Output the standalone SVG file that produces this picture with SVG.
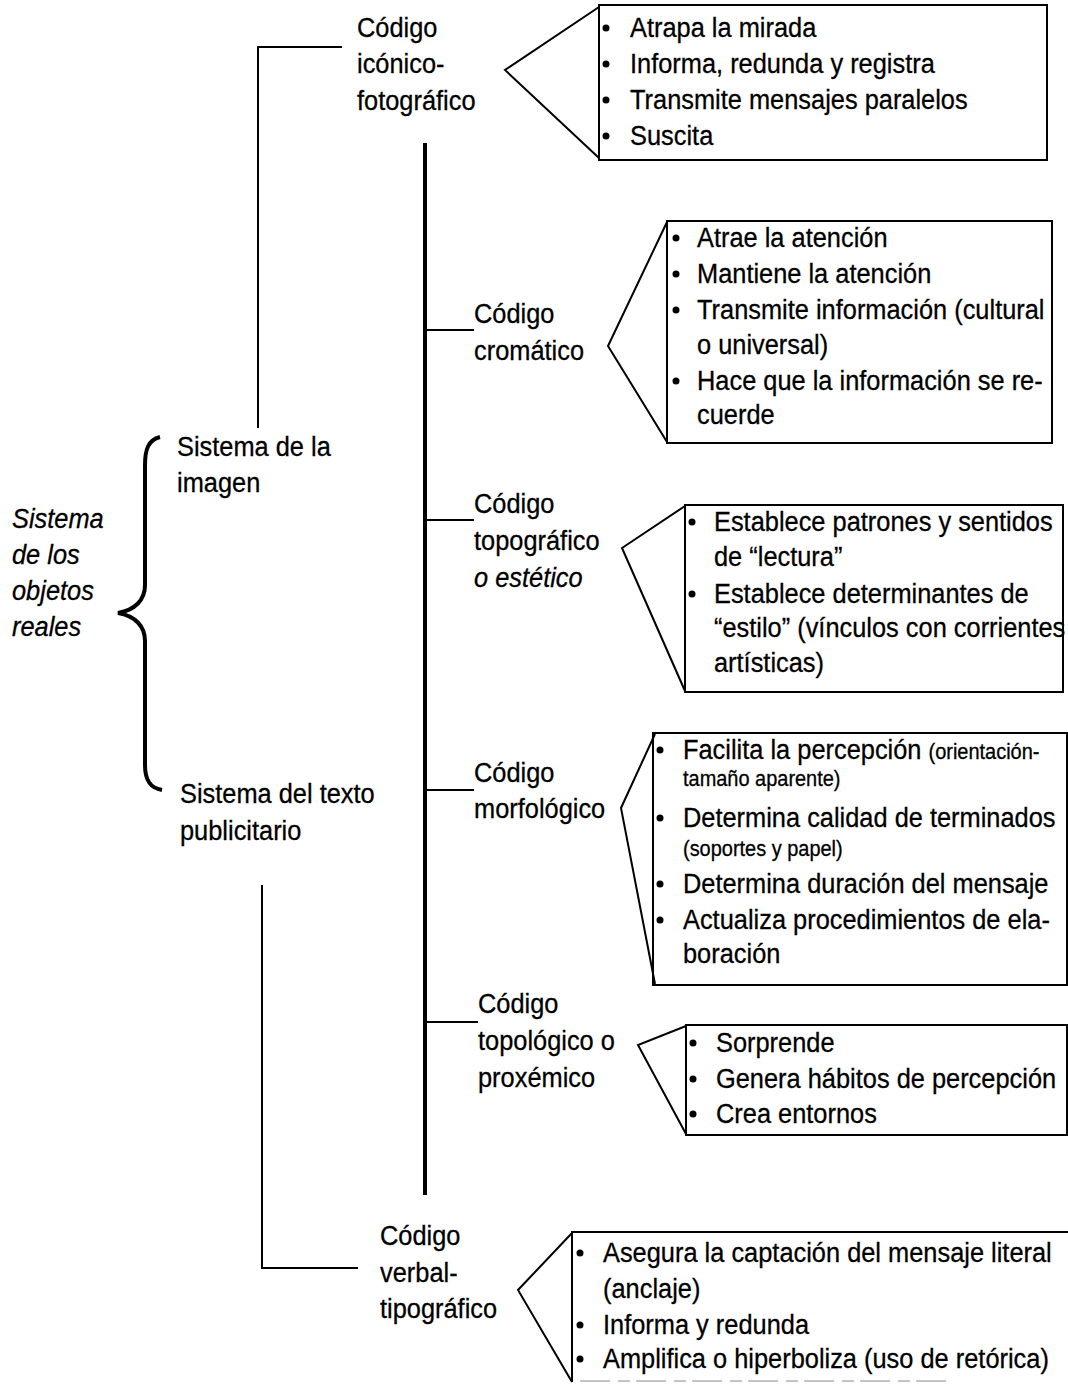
<svg xmlns="http://www.w3.org/2000/svg" width="1068" height="1384" viewBox="0 0 1068 1384">
<style>
text{font-family:"Liberation Sans",Arial,sans-serif;font-size:28px;fill:#000;stroke:#000;stroke-width:0.3}
.it{font-style:italic}
.sm{font-size:22px}
.ln{fill:none;stroke:#000;stroke-width:2}
.thick{fill:none;stroke:#000;stroke-width:4}
.box{fill:#fff;stroke:#000;stroke-width:2}
.bul{fill:#000}
</style>
<defs>
<circle id="b" r="3.5" class="bul"/>
</defs>
<g id="connectors">
<polyline class="ln" points="342,47 258,47 258,428"/>
<line class="thick" x1="425" y1="143" x2="425" y2="1195"/>
<line class="ln" x1="425" y1="330" x2="474" y2="330"/>
<line class="ln" x1="425" y1="520" x2="474" y2="520"/>
<line class="ln" x1="425" y1="790" x2="474" y2="790"/>
<line class="ln" x1="425" y1="1022" x2="478" y2="1022"/>
<polyline class="ln" points="262,885 262,1268 358,1268"/>
<path class="thick" d="M160,437 C148,440 145,450 145,465 L145,585 C145,600 135,610 118,613 C135,616 145,626 145,641 L145,765 C145,780 150,788 162,790"/>
</g>
<g id="root">
<text class="it" transform="matrix(0.907 0 0 1 12 528)">Sistema</text>
<text class="it" transform="matrix(0.907 0 0 1 12 564)">de los</text>
<text class="it" transform="matrix(0.907 0 0 1 12 600)">objetos</text>
<text class="it" transform="matrix(0.907 0 0 1 12 636)">reales</text>
</g>
<g id="sistema-imagen">
<text transform="matrix(0.907 0 0 1 177 456)">Sistema de la</text>
<text transform="matrix(0.907 0 0 1 177 492)">imagen</text>
</g>
<g id="sistema-texto">
<text transform="matrix(0.907 0 0 1 180 803)">Sistema del texto</text>
<text transform="matrix(0.907 0 0 1 180 840)">publicitario</text>
</g>
<g id="codigo-iconico">
<text transform="matrix(0.907 0 0 1 357 37)">Código</text>
<text transform="matrix(0.907 0 0 1 357 73)">icónico-</text>
<text transform="matrix(0.907 0 0 1 357 110)">fotográfico</text>
<rect class="box" x="599" y="5" width="448" height="155"/>
<polyline class="ln" points="599,7 505,70 599,158"/>
<use href="#b" x="606" y="28"/><text transform="matrix(0.907 0 0 1 630 37)">Atrapa la mirada</text>
<use href="#b" x="606" y="64"/><text transform="matrix(0.907 0 0 1 630 73)">Informa, redunda y registra</text>
<use href="#b" x="606" y="100"/><text transform="matrix(0.907 0 0 1 630 109)">Transmite mensajes paralelos</text>
<use href="#b" x="606" y="136"/><text transform="matrix(0.907 0 0 1 630 145)">Suscita</text>
</g>
<g id="codigo-cromatico">
<text transform="matrix(0.907 0 0 1 474 323)">Código</text>
<text transform="matrix(0.907 0 0 1 474 360)">cromático</text>
<rect class="box" x="667" y="221" width="385" height="222"/>
<polyline class="ln" points="667,222 608,346 667,442"/>
<use href="#b" x="676" y="238"/><text transform="matrix(0.907 0 0 1 697 247)">Atrae la atención</text>
<use href="#b" x="676" y="274"/><text transform="matrix(0.907 0 0 1 697 283)">Mantiene la atención</text>
<use href="#b" x="676" y="310"/><text transform="matrix(0.907 0 0 1 697 319)">Transmite información (cultural</text>
<text transform="matrix(0.907 0 0 1 697 354)">o universal)</text>
<use href="#b" x="676" y="381"/><text transform="matrix(0.907 0 0 1 697 390)">Hace que la información se re-</text>
<text transform="matrix(0.907 0 0 1 697 424)">cuerde</text>
</g>
<g id="codigo-topografico">
<text transform="matrix(0.907 0 0 1 474 513)">Código</text>
<text transform="matrix(0.907 0 0 1 474 550)">topográfico</text>
<text class="it" transform="matrix(0.907 0 0 1 474 587)">o estético</text>
<rect class="box" x="685" y="505" width="378" height="187"/>
<polyline class="ln" points="685,506 622,548 685,691"/>
<use href="#b" x="692" y="522"/><text transform="matrix(0.907 0 0 1 714 531)">Establece patrones y sentidos</text>
<text transform="matrix(0.907 0 0 1 714 566)">de “lectura”</text>
<use href="#b" x="692" y="594"/><text transform="matrix(0.907 0 0 1 714 603)">Establece determinantes de</text>
<text transform="matrix(0.907 0 0 1 714 637)">“estilo” (vínculos con corrientes</text>
<text transform="matrix(0.907 0 0 1 714 672)">artísticas)</text>
</g>
<g id="codigo-morfologico">
<text transform="matrix(0.907 0 0 1 474 782)">Código</text>
<text transform="matrix(0.907 0 0 1 474 818)">morfológico</text>
<rect class="box" x="653" y="733" width="414" height="252"/>
<polyline class="ln" points="655,734 621,808 655,984"/>
<use href="#b" x="660" y="750"/><text transform="matrix(0.907 0 0 1 683 759)">Facilita la percepción <tspan class="sm">(orientación-</tspan></text>
<text class="sm" transform="matrix(0.907 0 0 1 683 786)">tamaño aparente)</text>
<use href="#b" x="660" y="818"/><text transform="matrix(0.907 0 0 1 683 827)">Determina calidad de terminados</text>
<text class="sm" transform="matrix(0.907 0 0 1 683 856)">(soportes y papel)</text>
<use href="#b" x="660" y="884"/><text transform="matrix(0.907 0 0 1 683 893)">Determina duración del mensaje</text>
<use href="#b" x="660" y="920"/><text transform="matrix(0.907 0 0 1 683 929)">Actualiza procedimientos de ela-</text>
<text transform="matrix(0.907 0 0 1 683 963)">boración</text>
</g>
<g id="codigo-topologico">
<text transform="matrix(0.907 0 0 1 478 1013)">Código</text>
<text transform="matrix(0.907 0 0 1 478 1050)">topológico o</text>
<text transform="matrix(0.907 0 0 1 478 1087)">proxémico</text>
<rect class="box" x="686" y="1025" width="381" height="110"/>
<polyline class="ln" points="686,1026 638,1045 686,1134"/>
<use href="#b" x="693" y="1043"/><text transform="matrix(0.907 0 0 1 716 1052)">Sorprende</text>
<use href="#b" x="693" y="1079"/><text transform="matrix(0.907 0 0 1 716 1088)">Genera hábitos de percepción</text>
<use href="#b" x="693" y="1114"/><text transform="matrix(0.907 0 0 1 716 1123)">Crea entornos</text>
</g>
<g id="codigo-verbal">
<text transform="matrix(0.907 0 0 1 380 1245)">Código</text>
<text transform="matrix(0.907 0 0 1 380 1282)">verbal-</text>
<text transform="matrix(0.907 0 0 1 380 1318)">tipográfico</text>
<path class="box" d="M572,1382 L572,1232 L1068,1232"/>
<line x1="580" y1="1381" x2="950" y2="1381" stroke="#888" stroke-width="1" stroke-dasharray="30 8 12 6"/>
<polyline class="ln" points="572,1233 518,1290 572,1382"/>
<use href="#b" x="580" y="1253"/><text transform="matrix(0.907 0 0 1 603 1262)">Asegura la captación del mensaje literal</text>
<text transform="matrix(0.907 0 0 1 603 1298)">(anclaje)</text>
<use href="#b" x="580" y="1325"/><text transform="matrix(0.907 0 0 1 603 1334)">Informa y redunda</text>
<use href="#b" x="580" y="1359"/><text transform="matrix(0.907 0 0 1 603 1368)">Amplifica o hiperboliza (uso de retórica)</text>
</g>
</svg>
